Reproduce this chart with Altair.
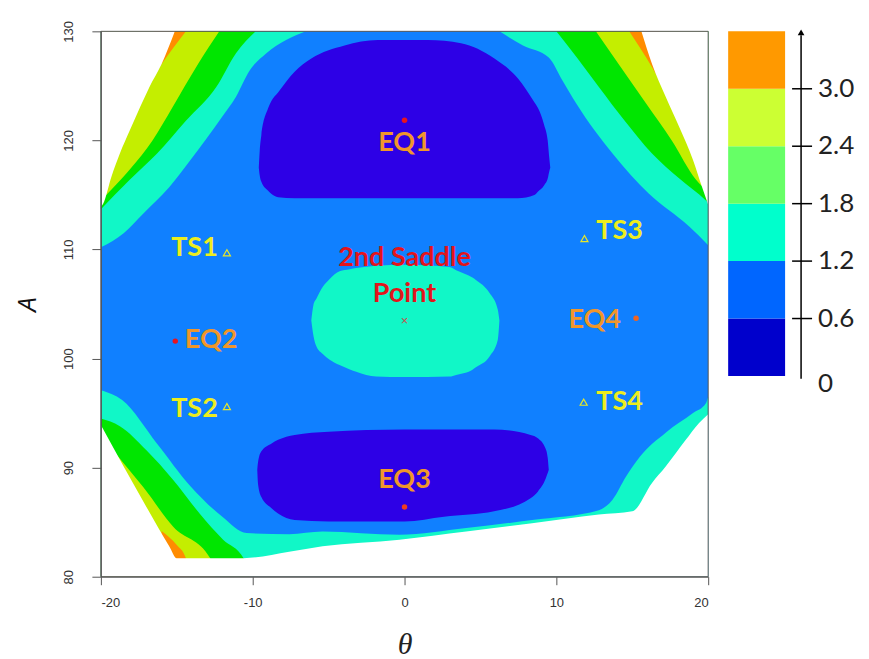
import altair as alt
import pandas as pd

# ---------------- data ----------------
# contour-band boundaries, (theta, A) pairs
TL_AQUA = [(-20, 110.2), (-18.5, 111.5), (-17.2, 113.3), (-15.5, 115.7), (-14.1, 118.2), (-12.0, 122.2),
           (-11.1, 124.0), (-10.2, 126.4), (-9.1, 128.0), (-7.8, 129.2), (-6.5, 130)]
TL_GREEN = [(-20, 113.7), (-18.1, 116.4), (-16.3, 118.8), (-14.4, 121.8), (-12.4, 124.9), (-11.1, 128.0), (-9.8, 130)]
TL_YELLOW = [(-20, 114.5), (-19.3, 115.5), (-18.0, 117.5), (-16.6, 120.0), (-15.3, 123.0), (-13.6, 127.0), (-12.2, 130)]
TL_ORANGE = [(-16.5, 126.0), (-16.0, 127.0), (-14.4, 130)]
TL_EDGE = [(-20, 113.9), (-19.85, 114.2), (-19.3, 116.7), (-18.75, 118.8), (-18.1, 120.9), (-17.4, 123.1),
           (-16.8, 124.9), (-16.0, 127.0), (-15.13, 130)]

TR_AQUA = [(6.25, 130), (7.8, 128.7), (9.5, 127.6), (10.4, 125.5), (11.3, 123.4), (13.7, 118.8), (16.1, 115.1),
           (18.75, 112.1), (20, 110.4)]
TR_GREEN = [(10.0, 130), (11.4, 127.5), (12.8, 124.9), (14.5, 121.8), (16.3, 118.8), (18.1, 116.5), (19.85, 114.5), (20, 114.3)]
TR_YELLOW = [(12.6, 130), (14.2, 126.8), (15.9, 123.4), (17.6, 120.0), (19.2, 116.4), (20, 115.3)]
TR_ORANGE = [(14.8, 130), (16.3, 126.7), (16.8, 125.5)]
TR_EDGE = [(15.6, 130), (16.3, 127.0), (17.2, 124.0), (18.1, 121.2), (19.0, 118.2), (19.6, 115.7), (20, 114.1)]

BOTTOM_AQUA = [(-20, 97.1), (-18.6, 96.2), (-16.3, 92.2), (-14.1, 88.3), (-12.0, 85.5), (-10.4, 84.0), (-7.6, 83.9),
               (-5.4, 84.15), (-0.33, 83.85), (4.06, 84.46), (8.4, 85.2), (12.8, 86.1), (13.7, 87.05), (14.6, 89.2),
               (15.5, 91.0), (17.2, 93.2), (19.0, 95.0), (19.85, 95.9), (20, 96.5)]
BL_GREEN = [(-20, 94.5), (-18.75, 93.8), (-17.0, 91.6), (-15.25, 88.9), (-13.5, 85.8), (-11.95, 83.4), (-10.6, 81.7), (-10.2, 80)]
BL_YELLOW = [(-20, 93.0), (-18.5, 90.4), (-17.2, 88.2), (-15.25, 84.6), (-12.8, 81.7), (-12.5, 80)]
BL_ORANGE = [(-16.0, 84.2), (-15.0, 82.9), (-14.4, 81.7), (-14.2, 80)]
BOTTOM_EDGE = [(-20, 93.9), (-18.5, 90.1), (-17.0, 86.4), (-15.5, 82.8), (-15.0, 81.7), (-10.6, 81.7), (-7.6, 82.3),
               (-5.4, 82.8), (-0.33, 83.4), (4.06, 84.15), (8.4, 84.9), (12.8, 85.7), (15.0, 86.0), (16.3, 88.6),
               (17.2, 90.1), (18.5, 92.5), (19.4, 94.1), (20, 94.9)]

# closed regions: theta, lower A, upper A
SADDLE_THETA = [-6.14, -6.0, -5.8, -5.37, -4.93, -4.28, -3.6, -3.18, -1.86, 0, 2.96, 3.4, 4.5, 4.7, 5.6, 6.14, 6.25]
SADDLE_LO = [103.5, 102.1, 101.1, 100.4, 99.9, 99.4, 99.0, 98.8, 98.35, 98.3, 98.35, 98.5, 99.0, 99.2, 100.2, 101.7, 103.5]
SADDLE_HI = [103.5, 104.9, 105.5, 106.6, 107.3, 108.0, 108.2, 108.3, 108.5, 108.6, 108.4, 108.1, 107.4, 107.2, 106.0, 104.5, 103.5]

EQ1_THETA = [-9.6, -9.54, -9.43, -9.0, -8.78, -8.33, -7.24, -6.14, -3.95, -1.76, 1.53, 3.72, 5.92, 7.46, 8.55, 8.78, 9.2, 9.43, 9.54, 9.6]
EQ1_LO = [117.5, 116.8, 116.2, 115.4, 115.1, 114.8, 114.7, 114.7, 114.7, 114.7, 114.7, 114.7, 114.7, 114.7, 115.0, 115.3, 115.9, 116.5, 117.2, 117.5]
EQ1_HI = [117.5, 119.0, 120.5, 122.9, 123.6, 124.4, 126.3, 127.5, 128.7, 129.2, 129.2, 128.9, 127.5, 125.7, 123.5, 123.0, 121.4, 120.0, 118.3, 117.5]

EQ3_THETA = [-9.7, -9.65, -9.43, -8.78, -8.33, -7.24, -5.0, 0, 2.6, 5.9, 8.3, 8.78, 9.3, 9.43, 9.5]
EQ3_LO = [89.8, 88.5, 87.3, 86.3, 85.8, 85.2, 85.07, 85.07, 85.5, 86.0, 87.2, 87.8, 89.0, 89.5, 89.8]
EQ3_HI = [89.8, 90.5, 91.5, 92.2, 92.55, 93.0, 93.3, 93.5, 93.5, 93.5, 93.0, 92.7, 91.7, 90.9, 89.8]

# stationary points
EQ_NAMES = ["EQ1", "EQ2", "EQ3", "EQ4"]
EQ_THETA = [0, -15.1, 0, 15.25]
EQ_A = [121.85, 101.6, 86.4, 103.7]
TS_NAMES = ["TS1", "TS2", "TS3", "TS4"]
TS_THETA = [-11.7, -11.7, 11.85, 11.8]
TS_A = [109.7, 95.6, 111.0, 96.0]
SADDLE2 = (0, 103.4)

# annotation texts
LABELS_CENTER = [("EQ1", 0, 119.8, "#F0962A"), ("EQ3", 0, 88.9, "#F0962A"),
                 ("2nd Saddle", 0, 109.2, "#E3141B"), ("Point", 0, 105.9, "#E3141B")]
LABELS_RIGHT = [("TS1", -12.3, 110.1, "#EDED1E"), ("TS2", -12.3, 95.4, "#EDED1E"), ("EQ4", 14.25, 103.5, "#F0962A")]
LABELS_LEFT = [("EQ2", -14.47, 101.7, "#F0962A"), ("TS3", 12.63, 111.7, "#EDED1E"), ("TS4", 12.63, 96.0, "#EDED1E")]

# colour key
LEGEND_BREAKS = [0, 0.6, 1.2, 1.8, 2.4, 3.0, 3.6]
LEGEND_COLORS = ["#0000CC", "#0066FF", "#00FFCC", "#66FF66", "#CCFF33", "#FF9900"]
LEGEND_TICKS = [0.6, 1.2, 1.8, 2.4, 3.0]
LEGEND_TICK_LABELS = ["0.6", "1.2", "1.8", "2.4", "3.0"]

# map colours
C_DARK = "#2D00E6"
C_BLUE = "#1080FF"
C_AQUA = "#11F7C7"
C_GREEN = "#00E600"
C_YELLOW = "#C4EE00"
C_ORANGE = "#FF8C00"

# ---------------- chart ----------------
XS = alt.Scale(domain=[-20, 20], nice=False, zero=False)
YS = alt.Scale(domain=[80, 130], nice=False, zero=False)

X_AXIS = alt.Axis(values=[-20, -10, 0, 10, 20], tickSize=8, labelPadding=12, labelFont="Liberation Sans",
                  labelFontSize=13, labelColor="#333333", domainColor="#555555", tickColor="#555555",
                  labelExpr="'' + datum.value",
                  grid=False, titleFont="Liberation Serif", titleFontStyle="italic", titleFontWeight="normal",
                  titleFontSize=30, titlePadding=20, titleColor="#222222", zindex=1)
Y_AXIS = alt.Axis(values=[80, 90, 100, 110, 120, 130], tickSize=9, labelPadding=16, labelFont="Liberation Sans",
                  labelFontSize=13, labelColor="#333333", labelAngle=-90, labelAlign="center",
                  labelBaseline="bottom", domainColor="#555555", tickColor="#555555", grid=False,
                  titleFont="Open Sans", titleFontStyle="italic", titleFontWeight="normal", titleFontSize=26,
                  titlePadding=22, titleColor="#111111", zindex=1)


def xenc(field="theta"):
    return alt.X(f"{field}:Q", scale=XS, axis=X_AXIS, title="θ")


def yenc(field="a"):
    return alt.Y(f"{field}:Q", scale=YS, axis=Y_AXIS, title="A")


def to_edge(pts, edge, color):
    df = pd.DataFrame(pts, columns=["theta", "a"])
    return alt.Chart(df).mark_area(color=color, orient="vertical", interpolate="monotone").encode(
        x=xenc(), y=yenc(), y2=alt.datum(edge))


def closed(thetas, lo, hi, color):
    df = pd.DataFrame({"theta": thetas, "a": lo, "hi": hi})
    return alt.Chart(df).mark_area(color=color, orient="vertical", interpolate="monotone").encode(
        x=xenc(), y=yenc(), y2="hi:Q")


layers = [
    to_edge([(-20, 80), (20, 80)], 130, C_BLUE),
    to_edge(TL_AQUA, 130, C_AQUA), to_edge(TR_AQUA, 130, C_AQUA), to_edge(BOTTOM_AQUA, 80, C_AQUA),
    to_edge(TL_GREEN, 130, C_GREEN), to_edge(TR_GREEN, 130, C_GREEN), to_edge(BL_GREEN, 80, C_GREEN),
    to_edge(TL_YELLOW, 130, C_YELLOW), to_edge(TR_YELLOW, 130, C_YELLOW), to_edge(BL_YELLOW, 80, C_YELLOW),
    to_edge(TL_ORANGE, 130, C_ORANGE), to_edge(TR_ORANGE, 130, C_ORANGE), to_edge(BL_ORANGE, 80, C_ORANGE),
    to_edge(TL_EDGE, 130, "white"), to_edge(TR_EDGE, 130, "white"), to_edge(BOTTOM_EDGE, 80, "white"),
    closed(SADDLE_THETA, SADDLE_LO, SADDLE_HI, C_AQUA),
    closed(EQ1_THETA, EQ1_LO, EQ1_HI, C_DARK),
    closed(EQ3_THETA, EQ3_LO, EQ3_HI, C_DARK),
]

frame = alt.Chart(pd.DataFrame({"k": [0]})).mark_rect(fillOpacity=0, stroke="#555555", strokeWidth=1).encode(
    x=alt.X(datum=-20, scale=XS, axis=X_AXIS, title="θ"), x2=alt.datum(20),
    y=alt.Y(datum=80, scale=YS, axis=Y_AXIS, title="A"), y2=alt.datum(130))
layers.append(frame)

eq_df = pd.DataFrame({"theta": EQ_THETA, "a": EQ_A, "name": EQ_NAMES,
                      "col": ["#E8141E", "#E8141E", "#F03C1E", "#F06420"]})
layers.append(alt.Chart(eq_df).mark_point(filled=True, shape="circle", size=30, opacity=1).encode(
    x=xenc(), y=yenc(), color=alt.Color("col:N", scale=None)))

ts_df = pd.DataFrame({"theta": TS_THETA, "a": TS_A, "name": TS_NAMES})
layers.append(alt.Chart(ts_df).mark_point(shape="triangle-up", size=50, filled=False, color="#E6E62A",
                                          strokeWidth=1.2, opacity=1).encode(x=xenc(), y=yenc()))

sad_df = pd.DataFrame({"theta": [SADDLE2[0]], "a": [SADDLE2[1]], "t": ["×"]})
layers.append(alt.Chart(sad_df).mark_text(fontSize=13, color="#C0504D", baseline="middle").encode(
    x=xenc(), y=yenc(), text="t:N"))

for rows, align in ((LABELS_CENTER, "center"), (LABELS_RIGHT, "right"), (LABELS_LEFT, "left")):
    df = pd.DataFrame(rows, columns=["t", "theta", "a", "col"])
    layers.append(alt.Chart(df).mark_text(font="Lato", fontWeight="bold", fontSize=27, align=align,
                                          baseline="middle").encode(
        x=xenc(), y=yenc(), text="t:N", color=alt.Color("col:N", scale=None)))

main = alt.layer(*layers).properties(width=608, height=546)

# ---------------- colour key ----------------
LX = alt.Scale(domain=[0, 160], nice=False, zero=False)
LY = alt.Scale(domain=[-2.097, 3.6], nice=False, zero=False)

leg_df = pd.DataFrame({"lo": LEGEND_BREAKS[:-1], "hi": LEGEND_BREAKS[1:], "col": LEGEND_COLORS})
leg_rect = alt.Chart(leg_df).mark_rect().encode(
    x=alt.X(datum=19, scale=LX, axis=None), x2=alt.datum(76),
    y=alt.Y("lo:Q", scale=LY, axis=None), y2="hi:Q",
    color=alt.Color("col:N", scale=None))
arrow = alt.Chart(pd.DataFrame({"k": [0]})).mark_rule(color="black", strokeWidth=1.5).encode(
    x=alt.X(datum=92, scale=LX, axis=None), y=alt.Y(datum=-0.03, scale=LY, axis=None), y2=alt.datum(3.56))
head = alt.Chart(pd.DataFrame({"k": [0]})).mark_point(shape="triangle-up", filled=True, size=45, color="black",
                                                      opacity=1).encode(
    x=alt.X(datum=92, scale=LX, axis=None), y=alt.Y(datum=3.59, scale=LY, axis=None))
tick_df = pd.DataFrame({"v": LEGEND_TICKS, "lab": LEGEND_TICK_LABELS})
ticks = alt.Chart(tick_df).mark_rule(color="black", strokeWidth=1.5).encode(
    x=alt.X(datum=83, scale=LX, axis=None), x2=alt.datum(103), y=alt.Y("v:Q", scale=LY, axis=None))
tick_labels = alt.Chart(tick_df).mark_text(font="Lato", fontSize=26, align="left", baseline="middle",
                                           color="#222222").encode(
    x=alt.X(datum=109, scale=LX, axis=None), y=alt.Y("v:Q", scale=LY, axis=None), text="lab:N")
zero_label = alt.Chart(pd.DataFrame({"v": [0], "lab": ["0"]})).mark_text(
    font="Lato", fontSize=26, align="left", baseline="middle", color="#222222", dy=8).encode(
    x=alt.X(datum=109, scale=LX, axis=None), y=alt.Y("v:Q", scale=LY, axis=None), text="lab:N")

legend = alt.layer(leg_rect, arrow, head, ticks, tick_labels, zero_label).properties(width=160, height=546)

chart = alt.hconcat(main, legend, spacing=0).resolve_scale(x="independent", y="independent").properties(
    padding={"left": 14, "top": 20, "right": 0, "bottom": 0}, background="white"
).configure_view(stroke=None)

chart.save("out.html", embed_options={"renderer": "svg", "actions": False})
